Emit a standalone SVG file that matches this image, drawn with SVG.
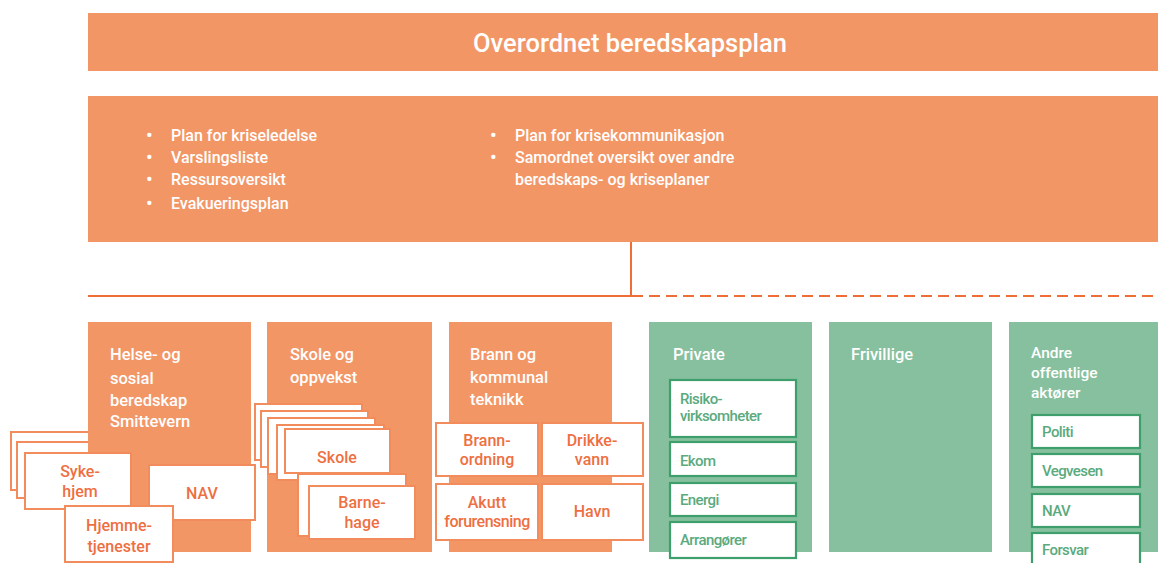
<svg xmlns="http://www.w3.org/2000/svg" width="1158" height="563" viewBox="0 0 1158 563">
<style>
.org{fill:#F39666;}
.grn{fill:#87C09E;}
.wo{fill:#FFFFFF;stroke:#F28C5C;stroke-width:2;}
.wg{fill:#FFFFFF;stroke:#3E9E6C;stroke-width:2.2;}
.tw{font-family:Roboto,"Liberation Sans",sans-serif;font-weight:500;fill:#FFFFFF;}
.to{font-family:Roboto,"Liberation Sans",sans-serif;font-weight:500;fill:#EE6F42;font-size:16px;text-anchor:middle;}
.tg{font-family:Roboto,"Liberation Sans",sans-serif;font-weight:500;fill:#5AAA7E;font-size:15px;letter-spacing:-0.6px;}
.head{font-size:16.5px;}
.bul{font-size:16px;}
.dot{font-size:19px;}
.conn{stroke:#EF6E38;stroke-width:2;fill:none;}
</style>
<rect width="1158" height="563" fill="#FFFFFF"/>

<g id="top">
<rect class="org" x="88" y="13" width="1070" height="58"/>
<text class="tw" x="630" y="52" font-size="25.5" text-anchor="middle">Overordnet beredskapsplan</text>
</g>

<g id="plans">
<rect class="org" x="88" y="96" width="1070" height="146"/>
<g class="tw bul">
<text class="dot" x="146" y="142">•</text><text x="171" y="141">Plan for kriseledelse</text>
<text class="dot" x="146" y="164">•</text><text x="171" y="163">Varslingsliste</text>
<text class="dot" x="146" y="186">•</text><text x="171" y="185">Ressursoversikt</text>
<text class="dot" x="146" y="210">•</text><text x="171" y="209">Evakueringsplan</text>
<text class="dot" x="490" y="142">•</text><text x="515" y="141">Plan for krisekommunikasjon</text>
<text class="dot" x="490" y="164">•</text><text x="515" y="163">Samordnet oversikt over andre</text>
<text x="515" y="185">beredskaps- og kriseplaner</text>
</g>
</g>

<g id="connectors">
<line class="conn" x1="631" y1="242" x2="631" y2="297"/>
<line class="conn" x1="88" y1="296" x2="632" y2="296"/>
<line class="conn" x1="632" y1="296" x2="1158" y2="296" stroke-dasharray="11,6"/>
</g>

<g id="helse">
<rect class="wo" x="11" y="432" width="100" height="58"/>
<rect class="wo" x="17" y="442" width="100" height="56"/>
<rect class="org" x="88" y="322" width="163" height="230"/>
<text class="tw head" x="110" y="360">Helse- og</text>
<text class="tw head" x="110" y="384">sosial</text>
<text class="tw head" x="110" y="406">beredskap</text>
<text class="tw head" x="110" y="427">Smittevern</text>
</g>
<g id="sykehjem">
<rect class="wo" x="25" y="453" width="106" height="56"/>
<text class="to" x="80" y="477">Syke-</text>
<text class="to" x="80" y="497">hjem</text>
</g>
<g id="nav1">
<rect class="wo" x="149" y="465" width="106" height="55"/>
<text class="to" x="202" y="499">NAV</text>
</g>
<g id="hjemmetjenester">
<rect class="wo" x="65" y="506" width="108" height="56"/>
<text class="to" x="119" y="531">Hjemme-</text>
<text class="to" x="119" y="552">tjenester</text>
</g>

<g id="skole-oppvekst">
<rect class="org" x="267" y="322" width="165" height="230"/>
<text class="tw head" x="290" y="360">Skole og</text>
<text class="tw head" x="290" y="383">oppvekst</text>
</g>
<g id="skole">
<rect class="wo" x="255" y="404" width="107" height="56"/>
<rect class="wo" x="261" y="411" width="107" height="56"/>
<rect class="wo" x="268" y="418" width="107" height="56"/>
<rect class="wo" x="277" y="425" width="107" height="55"/>
<rect class="wo" x="285" y="429" width="105" height="44"/>
<text class="to" x="337" y="463">Skole</text>
</g>
<g id="barnehage">
<rect class="wo" x="298" y="474" width="108" height="62"/>
<rect class="wo" x="309" y="486" width="106" height="53"/>
<text class="to" x="362" y="508">Barne-</text>
<text class="to" x="362" y="528">hage</text>
</g>

<g id="brann-teknikk">
<rect class="org" x="449" y="322" width="163" height="230"/>
<text class="tw head" x="470" y="360">Brann og</text>
<text class="tw head" x="470" y="383">kommunal</text>
<text class="tw head" x="470" y="405">teknikk</text>
</g>
<g id="brannordning">
<rect class="wo" x="436" y="423" width="102" height="53"/>
<text class="to" x="487" y="446">Brann-</text>
<text class="to" x="487" y="465">ordning</text>
</g>
<g id="drikkevann">
<rect class="wo" x="542" y="423" width="101" height="53"/>
<text class="to" x="592" y="446">Drikke-</text>
<text class="to" x="592" y="465">vann</text>
</g>
<g id="akutt">
<rect class="wo" x="436" y="484" width="102" height="56"/>
<text class="to" x="487" y="508">Akutt</text>
<text class="to" x="487" y="527" letter-spacing="-0.5">forurensning</text>
</g>
<g id="havn">
<rect class="wo" x="542" y="484" width="101" height="56"/>
<text class="to" x="592" y="517">Havn</text>
</g>

<g id="private">
<rect class="grn" x="649" y="322" width="163" height="230"/>
<text class="tw head" x="673" y="360">Private</text>
<rect class="wg" x="670" y="380" width="126" height="57"/>
<text class="tg" x="680" y="404" font-size="14.5">Risiko-</text>
<text class="tg" x="680" y="421" font-size="14.5">virksomheter</text>
<rect class="wg" x="670" y="442" width="126" height="34"/>
<text class="tg" x="680" y="466">Ekom</text>
<rect class="wg" x="670" y="483" width="126" height="33"/>
<text class="tg" x="680" y="505">Energi</text>
<rect class="wg" x="670" y="522" width="126" height="36"/>
<text class="tg" x="680" y="545">Arrangører</text>
</g>

<g id="frivillige">
<rect class="grn" x="829" y="322" width="163" height="230"/>
<text class="tw head" x="851" y="360">Frivillige</text>
</g>

<g id="andre">
<rect class="grn" x="1009" y="322" width="149" height="230"/>
<text class="tw" font-size="15.5" x="1031" y="358">Andre</text>
<text class="tw" font-size="15.5" x="1031" y="378">offentlige</text>
<text class="tw" font-size="15.5" x="1031" y="398">aktører</text>
<rect class="wg" x="1032" y="415" width="108" height="33"/>
<text class="tg" x="1042" y="437">Politi</text>
<rect class="wg" x="1032" y="454" width="108" height="33"/>
<text class="tg" x="1042" y="476">Vegvesen</text>
<rect class="wg" x="1032" y="494" width="108" height="33"/>
<text class="tg" x="1042" y="516">NAV</text>
<rect class="wg" x="1032" y="533" width="108" height="34"/>
<text class="tg" x="1042" y="555">Forsvar</text>
</g>
</svg>
